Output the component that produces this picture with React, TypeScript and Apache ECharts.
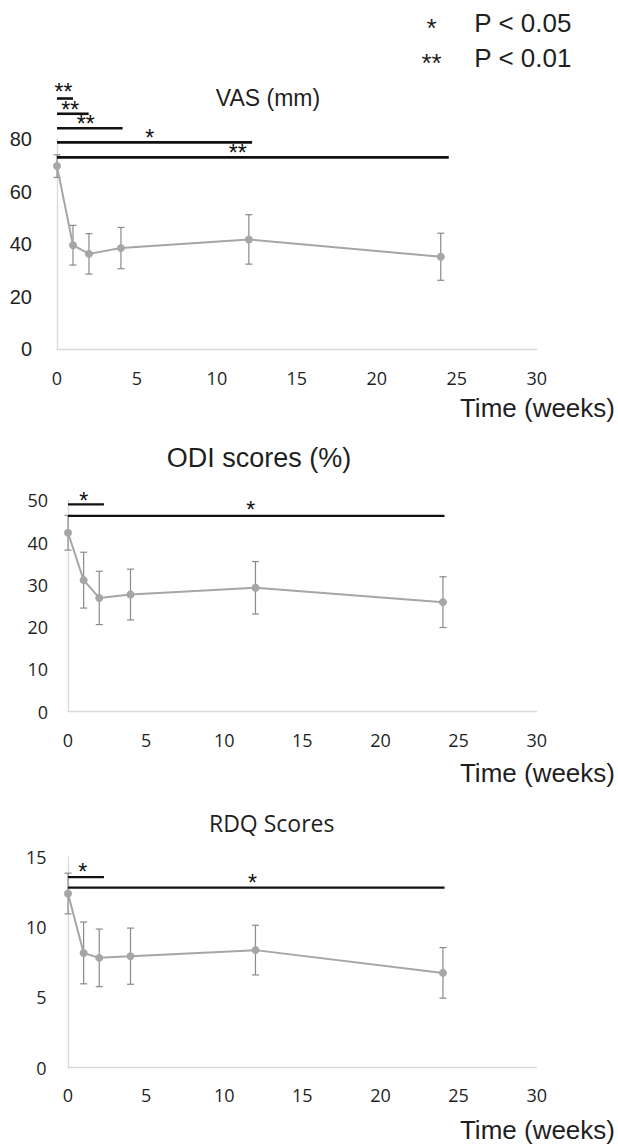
import React, { useEffect, useRef } from "react";
import * as echarts from "echarts";

// ---- data ----
const weeks = [0, 1, 2, 4, 12, 24];

const vasMean = [69.7, 39.6, 36.3, 38.5, 41.8, 35.2];
const vasSd = [4.3, 7.55, 7.7, 7.85, 9.4, 8.95];

const odiMean = [42.3, 31.1, 26.9, 27.7, 29.3, 25.9];
const odiSd = [4.1, 6.6, 6.3, 6.0, 6.2, 6.0];

const rdqMean = [12.4, 8.17, 7.82, 7.94, 8.37, 6.75];
const rdqSd = [1.45, 2.2, 2.05, 2.0, 1.77, 1.8];

// significance brackets: [fromWeek, toWeek, level, labelWeek, labelLevel]
const vasSig = [
  [0, 1.0, 95.4, 0.4, 99.4],
  [0, 1.98, 89.6, 0.83, 92.5],
  [0, 4.1, 84.1, 1.8, 87.0],
  [0, 12.2, 78.7, 5.8, 81.9],
  [0, 24.5, 73.0, 11.3, 76.1],
];
const vasSigLabels = ["**", "**", "**", "*", "**"];

const odiSig = [
  [0, 2.3, 49.0, 1.0, 50.7],
  [0, 24.1, 46.3, 11.7, 48.5],
];
const odiSigLabels = ["*", "*"];

const rdqSig = [
  [0, 2.3, 13.57, 0.95, 14.17],
  [0, 24.1, 12.82, 11.8, 13.41],
];
const rdqSigLabels = ["*", "*"];

const xMin = 0;
const xMax = 30;
const xStep = 5;
const yMax = [80, 50, 15];
const yStep = [20, 10, 5];

const titles = ["VAS (mm)", "ODI scores (%)", "RDQ Scores"];
const xName = "Time (weeks)";
const legendItems = [
  ["*", "P < 0.05"],
  ["**", "P < 0.01"],
];

export default function App() {
  const ref = useRef<HTMLDivElement>(null);

  useEffect(() => {
    if (!ref.current) return;
    const chart = echarts.init(ref.current, null, { renderer: "svg" });

    const grids = [
      { left: 57, top: 139, width: 479.7, height: 210.3 },
      { left: 68, top: 500.2, width: 468.7, height: 211.5 },
      { left: 68, top: 857, width: 468.7, height: 210.7 },
    ];
    const xLabelMargin = [20, 19, 18];
    const yLabelMargin = [25, 20, 21.5];
    const yFonts = [
      { fontFamily: '"Liberation Sans", Arial, sans-serif', fontSize: 20 },
      { fontFamily: '"Open Sans", sans-serif', fontSize: 18 },
      { fontFamily: '"Open Sans", sans-serif', fontSize: 18 },
    ];
    const axisColor = "#d9d9d9";
    const textColor = "#1f1f1f";

    const means = [vasMean, odiMean, rdqMean];
    const sds = [vasSd, odiSd, rdqSd];
    const sigs = [vasSig, odiSig, rdqSig];
    const sigLabels = [vasSigLabels, odiSigLabels, rdqSigLabels];
    const sigWidth = [2.6, 2.2, 2.2];

    const xAxis = grids.map((_, i) => ({
      type: "value",
      gridIndex: i,
      min: xMin,
      max: xMax,
      interval: xStep,
      axisLine: { show: true, lineStyle: { color: axisColor, width: 1.3 } },
      axisTick: { show: false },
      splitLine: { show: false },
      axisLabel: {
        margin: xLabelMargin[i],
        color: textColor,
        fontFamily: '"Open Sans", sans-serif',
        fontSize: 18,
      },
    }));
    const yAxis = grids.map((_, i) => ({
      type: "value",
      gridIndex: i,
      min: 0,
      max: yMax[i],
      interval: yStep[i],
      axisLine: { show: true, lineStyle: { color: axisColor, width: 1.3 } },
      axisTick: { show: false },
      splitLine: { show: false },
      axisLabel: {
        margin: yLabelMargin[i],
        color: textColor,
        ...yFonts[i],
      },
    }));

    const series: any[] = [];
    grids.forEach((_, i) => {
      series.push({
        type: "custom",
        xAxisIndex: i,
        yAxisIndex: i,
        z: 2,
        data: weeks.map((w, j) => [w, means[i][j] - sds[i][j], means[i][j] + sds[i][j]]),
        encode: { x: 0, y: [1, 2] },
        renderItem: (params: any, api: any) => {
          const x = api.value(0);
          const lo = api.coord([x, api.value(1)]);
          const hi = api.coord([x, api.value(2)]);
          const hw = 3.5;
          const st = { stroke: "#8a8a8a", lineWidth: 1.2 };
          return {
            type: "group",
            children: [
              { type: "line", shape: { x1: lo[0], y1: lo[1], x2: hi[0], y2: hi[1] }, style: st },
              { type: "line", shape: { x1: lo[0] - hw, y1: lo[1], x2: lo[0] + hw, y2: lo[1] }, style: st },
              { type: "line", shape: { x1: hi[0] - hw, y1: hi[1], x2: hi[0] + hw, y2: hi[1] }, style: st },
            ],
          };
        },
      });
      series.push({
        type: "line",
        xAxisIndex: i,
        yAxisIndex: i,
        z: 3,
        data: weeks.map((w, j) => [w, means[i][j]]),
        symbol: "circle",
        symbolSize: 8,
        itemStyle: { color: "#a6a6a6" },
        lineStyle: { color: "#a6a6a6", width: 2 },
      });
      series.push({
        type: "custom",
        xAxisIndex: i,
        yAxisIndex: i,
        z: 4,
        clip: false,
        data: sigs[i],
        encode: { x: [0, 1, 3], y: [2, 4] },
        renderItem: (params: any, api: any) => {
          const a = api.coord([api.value(0), api.value(2)]);
          const b = api.coord([api.value(1), api.value(2)]);
          const l = api.coord([api.value(3), api.value(4)]);
          return {
            type: "group",
            children: [
              {
                type: "line",
                shape: { x1: a[0], y1: a[1], x2: b[0], y2: b[1] },
                style: { stroke: "#111111", lineWidth: sigWidth[i] },
              },
              {
                type: "text",
                x: l[0],
                y: l[1] + 3.5,
                style: {
                  text: sigLabels[i][params.dataIndex],
                  fill: "#111111",
                  fontFamily: '"Liberation Sans", Arial, sans-serif',
                  fontSize: 23,
                  lineHeight: 10,
                  align: "center",
                  verticalAlign: "middle",
                },
              },
            ],
          };
        },
      });
    });

    const titleSpecs = [
      { x: 268, y: 98, font: '"Liberation Sans", Arial, sans-serif', size: 23 },
      { x: 259, y: 458.3, font: '"Liberation Sans", Arial, sans-serif', size: 27 },
      { x: 271.7, y: 822.7, font: '"Open Sans", sans-serif', size: 23 },
    ];
    const timeY = [407.5, 772.5, 1130];

    const graphic: any[] = [];
    titleSpecs.forEach((t, i) => {
      graphic.push({
        type: "text",
        x: t.x,
        y: t.y,
        style: {
          text: titles[i],
          fill: textColor,
          fontFamily: t.font,
          fontSize: t.size,
          align: "center",
          verticalAlign: "middle",
        },
      });
      graphic.push({
        type: "text",
        x: 615,
        y: timeY[i],
        style: {
          text: xName,
          fill: textColor,
          fontFamily: '"Liberation Sans", Arial, sans-serif',
          fontSize: 26,
          align: "right",
          verticalAlign: "middle",
        },
      });
    });
    const legendY = [22.5, 57.5];
    legendItems.forEach((it, k) => {
      graphic.push({
        type: "text",
        x: 431.5,
        y: legendY[k] + 5,
        style: {
          text: it[0],
          fill: textColor,
          fontFamily: '"Liberation Sans", Arial, sans-serif',
          fontSize: 26,
          align: "center",
          verticalAlign: "middle",
        },
      });
      graphic.push({
        type: "text",
        x: 474.3,
        y: legendY[k],
        style: {
          text: it[1],
          fill: textColor,
          fontFamily: '"Liberation Sans", Arial, sans-serif',
          fontSize: 26,
          align: "left",
          verticalAlign: "middle",
        },
      });
    });

    chart.setOption({
      animation: false,
      backgroundColor: "#ffffff",
      grid: grids,
      xAxis,
      yAxis,
      series,
      graphic,
    });

    return () => chart.dispose();
  }, []);

  return (
    <div
      ref={ref}
      style={{ position: "absolute", left: 0, top: 0, width: 618, height: 1145 }}
    />
  );
}
